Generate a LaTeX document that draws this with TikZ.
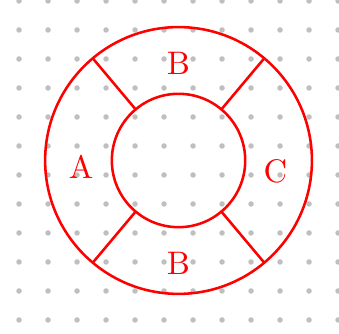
\documentclass[tikz,border=0pt]{standalone}
\usetikzlibrary{calc}
\definecolor{cred}{HTML}{FF0000}
\definecolor{cdot}{HTML}{BFBFBF}
\tikzset{
  every picture/.style={line width=1.25pt},
  ring/.style={draw=cred},
  spoke/.style={draw=cred},
  part/.style={text=cred, inner sep=0pt, scale=1.6},
  griddot/.style={fill=cdot, draw=none},
}

\begin{document}
\begin{tikzpicture}
  \useasboundingbox (-3.078,-2.991) rectangle (2.767,2.767);
  % dot grid
  \foreach \i in {0,...,11}
    \foreach \j in {0,...,11}
      \fill[griddot] (-2.75+0.5*\i,-2.75+0.5*\j) circle (1.35pt);
  % outer and inner ring
  \draw[ring] (0,0) circle (2.3);
  \draw[ring] (0,0) circle (1.15);
  % spokes between the rings
  \foreach \a in {50,130,230,310}
    \draw[spoke] (\a:1.15) -- (\a:2.3);
  \node[part] (btop) at (0,1.68) {B};
  \node[part] (bbot) at (0,-1.78) {B};
  \node[part] (a) at (-1.68,-0.11) {A};
  \node[part] (c) at (1.67,-0.195) {C};
\end{tikzpicture}
\end{document}
